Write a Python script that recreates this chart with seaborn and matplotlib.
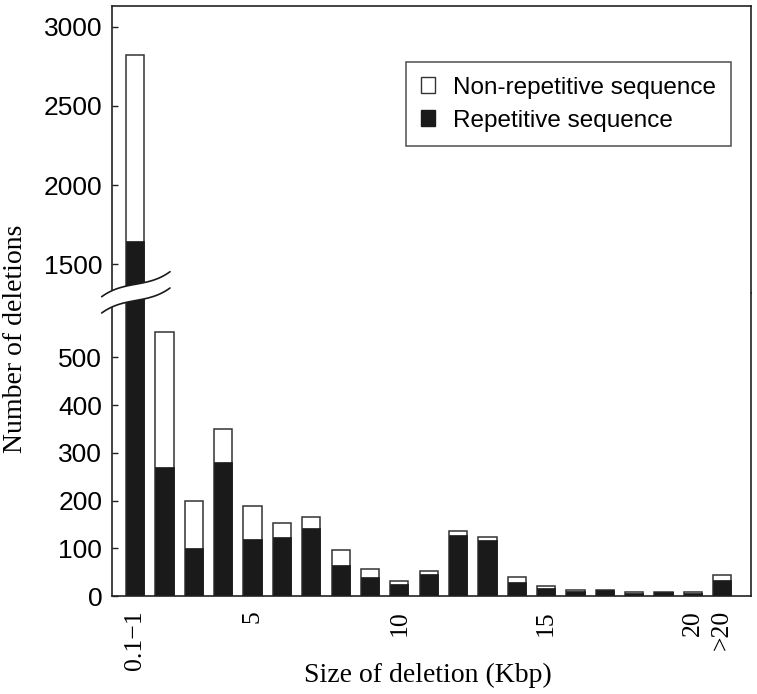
import numpy as np
import pandas as pd
import seaborn as sns
import matplotlib.pyplot as plt
from matplotlib.patches import Patch, Polygon
from matplotlib.lines import Line2D

# deletion size bins (Kbp)
categories = ["0.1−1", "2", "3", "4", "5", "6", "7", "8", "9", "10", "11",
              "12", "13", "14", "15", "16", "17", "18", "19", "20", ">20"]
total_counts = [2820, 553, 200, 351, 189, 153, 166, 96, 56, 31, 52,
                136, 123, 39, 20, 12, 12, 9, 9, 9, 45]
repetitive_counts = [1650, 270, 100, 280, 120, 124, 143, 66, 40, 26, 46,
                     127, 117, 29, 17, 10, 12, 7, 9, 7, 33]
shown_xticks = ["0.1−1", "5", "10", "15", "20", ">20"]
lower_yticks = [0, 100, 200, 300, 400, 500]
upper_yticks = [1500, 2000, 2500, 3000]

sns.set_style("ticks")
plt.rcParams["text.color"] = "black"
plt.rcParams["xtick.color"] = "black"
plt.rcParams["ytick.color"] = "black"
SERIF = ["Liberation Serif", "DejaVu Serif"]
SANS = ["Liberation Sans", "DejaVu Sans"]
EDGE = "#222222"
BLACK = "#1a1a1a"

df = pd.DataFrame({"size": categories, "total": total_counts, "rep": repetitive_counts})

W, H = 757, 694
fig = plt.figure(figsize=(W / 100, H / 100), dpi=100)
left, right, bottom, split, top = 112 / W, 751 / W, 1 - 596 / H, 1 - 293 / H, 1 - 5.7 / H
ax_lo = fig.add_axes([left, bottom, right - left, split - bottom])
ax_hi = fig.add_axes([left, split, right - left, top - split])

for ax in (ax_lo, ax_hi):
    sns.barplot(data=df, x="size", y="total", order=categories, color="white",
                saturation=1, edgecolor="#333333", linewidth=1.1, width=0.62, ax=ax)
    sns.barplot(data=df, x="size", y="rep", order=categories, color=BLACK,
                saturation=1, edgecolor=BLACK, linewidth=0.5, width=0.62, ax=ax)
    ax.set_xlim(-0.79, 20.98)
    ax.set_xlabel("")
    ax.set_ylabel("")
    for s in ax.spines.values():
        s.set_color(EDGE)
        s.set_linewidth(1.2)
    ax.tick_params(axis="y", direction="in", length=4, width=1, color=EDGE,
                   labelcolor="black", pad=7)

ax_lo.set_ylim(0, 635)
ax_lo.set_yticks(lower_yticks)
ax_lo.set_yticklabels([str(v) for v in lower_yticks], fontsize=19, family=SANS)
ax_lo.spines["top"].set_visible(False)
ticks = [categories.index(c) for c in shown_xticks]
ax_lo.set_xticks(ticks)
ax_lo.set_xticklabels(shown_xticks, rotation=90, fontsize=18.5, family=SERIF)
ax_lo.tick_params(axis="x", length=0, pad=10, labelcolor="black")

ax_hi.set_ylim(1319, 3133)
ax_hi.set_yticks(upper_yticks)
ax_hi.set_yticklabels([str(v) for v in upper_yticks], fontsize=19, family=SANS)
ax_hi.spines["bottom"].set_visible(False)
ax_hi.set_xticks([])

# legend
handles = [Patch(facecolor="white", edgecolor="#333333", linewidth=1),
           Patch(facecolor=BLACK, edgecolor=BLACK)]
leg = fig.legend(handles, ["Non-repetitive sequence", "Repetitive sequence"],
                 loc="upper right", bbox_to_anchor=(731 / W, 1 - 62 / H),
                 prop={"family": SANS, "size": 17.5}, frameon=True, fancybox=False,
                 handlelength=0.6, handleheight=0.6, handletextpad=0.75,
                 labelspacing=0.45, borderpad=0.6, borderaxespad=0)
leg.get_frame().set_edgecolor(EDGE)
leg.get_frame().set_linewidth(1.1)

# axis break marks (pixel layout -> figure fraction)
t = np.linspace(0, 1, 60)
s = 2 * t - 1
xs = 101.7 + 68.3 * t
off = -12.5 * (0.5 * s + 0.5 * s ** 3)
y_up = 284.2 + off
y_dn = y_up + 16.3
fx = xs / W
band = np.column_stack([np.r_[fx, fx[::-1]], np.r_[1 - y_up / H, (1 - y_dn / H)[::-1]]])
fig.add_artist(Polygon(band, closed=True, facecolor="white", edgecolor="none",
                       transform=fig.transFigure, zorder=5))
for yy in (y_up, y_dn):
    fig.add_artist(Line2D(fx, 1 - yy / H, color=BLACK, linewidth=1.2,
                          transform=fig.transFigure, zorder=6))

fig.text(16 / W, 1 - 338.5 / H, "Number of deletions", rotation=90, ha="center",
         va="center", fontsize=20, family=SERIF)
fig.text(427.5 / W, 1 - 682 / H, "Size of deletion (Kbp)", ha="center",
         va="baseline", fontsize=20, family=SERIF)

fig.savefig("out.png", dpi=100)
